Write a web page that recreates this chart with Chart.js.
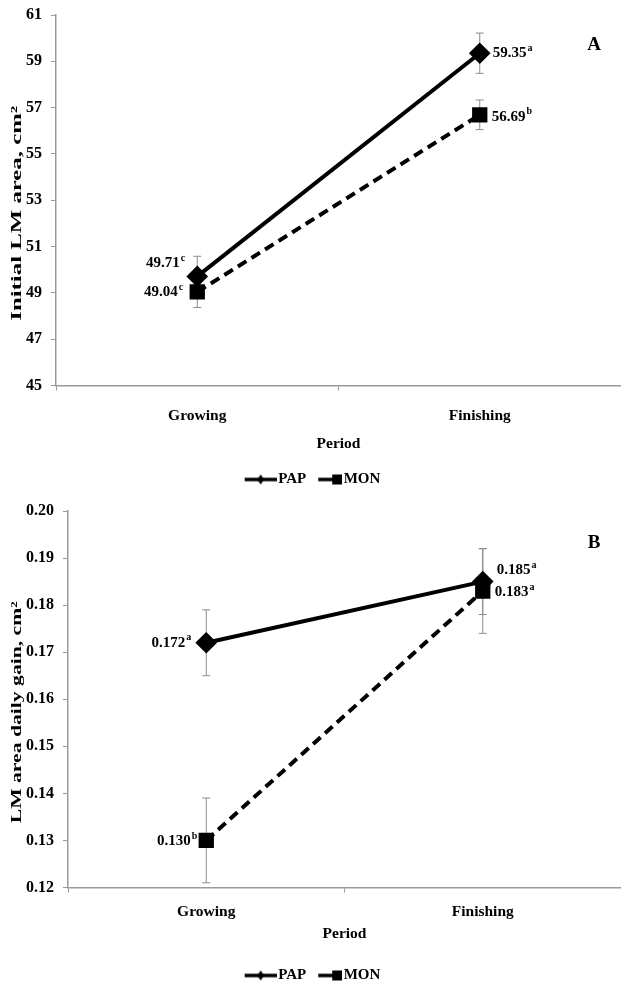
<!DOCTYPE html>
<html>
<head>
<meta charset="utf-8">
<script src="https://cdn.jsdelivr.net/npm/chart.js@4.4.1/dist/chart.umd.min.js"></script>
<style>
  body { margin: 0; background: #fff; width: 621px; height: 983px; overflow: hidden; position: relative; }
  #boxA { position: absolute; left: 0; top: 0; width: 621px; height: 497px; }
  #boxB { position: absolute; left: 0; top: 490px; width: 621px; height: 503px; }
</style>
</head>
<body>
<div id="boxA"><canvas id="chartA"></canvas></div>
<div id="boxB"><canvas id="chartB"></canvas></div>
<script>
const periods = ['Growing', 'Finishing'];

// panel A - initial LM area
const areaPAP = [49.71, 59.35];
const areaMON = [49.04, 56.69];
const areaErrPAP = [0.87, 0.87];
const areaErrMON = [0.67, 0.64];
const areaLetterPAP = ['c', 'a'];
const areaLetterMON = ['c', 'b'];

// panel B - LM area daily gain
const gainPAP = [0.172, 0.185];
const gainMON = [0.130, 0.183];
const gainErrPAP = [0.007, 0.007];
const gainErrMON = [0.009, 0.009];
const gainLetterPAP = ['a', 'a'];
const gainLetterMON = ['b', 'a'];

const SERIF = "'Liberation Serif', 'Times New Roman', serif";

// legend symbols: line + marker, drawn shifted right so the text sits close
function legendIcon(kind) {
	const c = document.createElement('canvas');
	c.width = 42; c.height = 16;
	const g = c.getContext('2d');
	g.strokeStyle = '#000';
	g.fillStyle = '#000';
	g.lineWidth = 3.5;
	g.beginPath();
	if (kind === 'PAP') {
		g.moveTo(10, 8); g.lineTo(42, 8); g.stroke();
		g.beginPath();
		g.moveTo(26, 3); g.lineTo(29.5, 8); g.lineTo(26, 13); g.lineTo(22.5, 8);
		g.fill();
	} else {
		g.moveTo(18, 8); g.lineTo(34, 8); g.stroke();
		g.fillRect(32, 3, 10, 10);
	}
	return c;
}
const icons = {PAP: legendIcon('PAP'), MON: legendIcon('MON')};

// error bars drawn behind the lines/markers
const errorBars = {
	id: 'errorBars',
	beforeDatasetsDraw(chart) {
		const {ctx} = chart;
		const y = chart.scales.y;
		ctx.save();
		ctx.strokeStyle = '#8c8c8c';
		ctx.lineWidth = 1;
		chart.data.datasets.forEach((ds, i) => {
			chart.getDatasetMeta(i).data.forEach((pt, j) => {
				const v = ds.data[j], e = ds.errors[j];
				const t = y.getPixelForValue(v + e), b = y.getPixelForValue(v - e);
				ctx.beginPath();
				ctx.moveTo(pt.x, t); ctx.lineTo(pt.x, b);
				ctx.moveTo(pt.x - 4, t); ctx.lineTo(pt.x + 4, t);
				ctx.moveTo(pt.x - 4, b); ctx.lineTo(pt.x + 4, b);
				ctx.stroke();
			});
		});
		ctx.restore();
	}
};

// value labels with significance letters, panel letter, stretched y title
const valueLabels = {
	id: 'valueLabels',
	afterDatasetsDraw(chart, args, opts) {
		const {ctx, chartArea} = chart;
		ctx.save();
		ctx.fillStyle = '#000';
		ctx.textBaseline = 'middle';
		chart.data.datasets.forEach((ds, i) => {
			chart.getDatasetMeta(i).data.forEach((pt, j) => {
				const [dx, dy] = opts.place[i][j];
				const main = ds.data[j].toFixed(opts.digits);
				const sup = ds.letters[j];
				ctx.font = 'bold 15px ' + SERIF;
				const wm = ctx.measureText(main).width;
				ctx.font = 'bold 10px ' + SERIF;
				const ws = ctx.measureText(sup).width + 1;
				let x0 = pt.x + dx;
				if (dx < 0) x0 -= (wm + ws);
				const yy = pt.y + dy;
				ctx.font = 'bold 15px ' + SERIF;
				ctx.textAlign = 'left';
				ctx.fillText(main, x0, yy);
				ctx.font = 'bold 10px ' + SERIF;
				ctx.fillText(sup, x0 + wm + 1, yy - 5);
			});
		});
		ctx.font = 'bold 19px ' + SERIF;
		ctx.textAlign = 'center';
		ctx.fillText(opts.panel, chartArea.right - 27, chartArea.top + opts.panelDy);

		// y axis title, stretched along its length like the source figure
		ctx.font = 'bold 15px ' + SERIF;
		const w = ctx.measureText(opts.yTitle).width;
		ctx.translate(17, (chartArea.top + chartArea.bottom) / 2 + opts.yTitleDy);
		ctx.rotate(-Math.PI / 2);
		ctx.scale(opts.yTitleLen / w, 1);
		ctx.fillText(opts.yTitle, 0, 0);
		ctx.restore();
	}
};

function makeChart(id, o) {
	return new Chart(document.getElementById(id), {
		type: 'line',
		data: {
			labels: periods,
			datasets: [
				{
					label: 'PAP',
					data: o.pap,
					errors: o.errPap,
					letters: o.letPap,
					borderColor: '#000',
					backgroundColor: '#000',
					borderWidth: 4,
					pointStyle: 'rectRot',
					pointRadius: 8,
					pointHoverRadius: 8,
				},
				{
					label: 'MON',
					data: o.mon,
					errors: o.errMon,
					letters: o.letMon,
					borderColor: '#000',
					backgroundColor: '#000',
					borderWidth: 4,
					borderDash: [10, 6],
					pointStyle: 'rect',
					pointRadius: 8,
					pointHoverRadius: 8,
				}
			]
		},
		options: {
			responsive: true,
			maintainAspectRatio: false,
			animation: false,
			layout: {autoPadding: false, padding: {top: o.padTop, left: 0, right: 0, bottom: 0}},
			scales: {
				x: {
					offset: true,
					grid: {offset: true, drawOnChartArea: false, tickLength: 5, color: '#999'},
					border: {color: '#999', width: 1.5},
					ticks: {color: '#000', padding: o.xTickPad, font: {family: SERIF, size: 15.5, weight: 'bold'}},
					title: {display: true, text: 'Period', color: '#000', padding: {top: 0, bottom: o.xTitlePad},
						font: {family: SERIF, size: 15.5, weight: 'bold'}},
					afterFit(scale) {
						scale.height = o.xHeight;
						scale.paddingLeft = 0;
						scale.paddingRight = 0;
					}
				},
				y: {
					min: o.min,
					max: o.max,
					grid: {drawOnChartArea: false, tickLength: 5, color: '#999'},
					border: {color: '#999', width: 1.5},
					ticks: {stepSize: o.step, color: '#000', padding: 9,
						font: {family: SERIF, size: 16, weight: 'bold'},
						callback: v => v.toFixed(o.tickDigits)},
					title: {display: false},
					afterFit(scale) {
						scale.width = o.yWidth;
						scale.paddingTop = 0;
						scale.paddingBottom = 0;
					}
				}
			},
			plugins: {
				legend: {
					position: 'bottom',
					labels: {
						usePointStyle: true,
						pointStyleWidth: 30,
						padding: 0,
						color: '#000',
						font: {family: SERIF, size: 15, weight: 'bold'},
						generateLabels(chart) {
							return chart.data.datasets.map((ds, i) => ({
								text: ds.label,
								pointStyle: icons[ds.label],
								fillStyle: '#000',
								strokeStyle: '#000',
								lineWidth: 0,
								datasetIndex: i,
								fontColor: '#000'
							}));
						}
					}
				},
				tooltip: {enabled: false},
				valueLabels: {
					digits: o.digits, place: o.place, panel: o.panel, panelDy: o.panelDy,
					yTitle: o.yTitle, yTitleLen: o.yTitleLen, yTitleDy: 13
				}
			}
		},
		plugins: [errorBars, valueLabels]
	});
}

makeChart('chartA', {
	pap: areaPAP, mon: areaMON, errPap: areaErrPAP, errMon: areaErrMON,
	letPap: areaLetterPAP, letMon: areaLetterMON,
	min: 45, max: 61, step: 2, tickDigits: 0, digits: 2,
	yTitle: 'Initial LM area, cm²', yTitleLen: 215,
	padTop: 15, yWidth: 56, xHeight: 86.5, xTickPad: 16, xTitlePad: 19.2,
	place: [[[-12, -13], [13, 0]], [[-14, 0], [12, 2]]],
	panel: 'A', panelDy: 30
});

makeChart('chartB', {
	pap: gainPAP, mon: gainMON, errPap: gainErrPAP, errMon: gainErrMON,
	letPap: gainLetterPAP, letMon: gainLetterMON,
	min: 0.12, max: 0.20, step: 0.01, tickDigits: 2, digits: 3,
	yTitle: 'LM area daily gain, cm²', yTitleLen: 222,
	padTop: 21, yWidth: 68, xHeight: 80.5, xTickPad: 10, xTitlePad: 25.2,
	place: [[[-15, 0], [14, -11]], [[-9, 1], [12, 1]]],
	panel: 'B', panelDy: 32
});
</script>
</body>
</html>
